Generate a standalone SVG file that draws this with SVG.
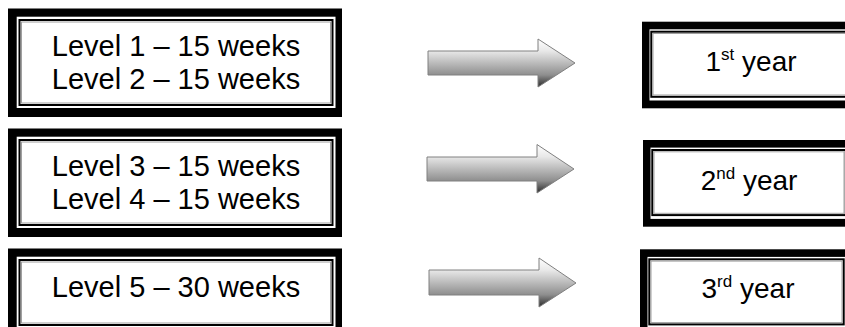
<svg xmlns="http://www.w3.org/2000/svg" width="845" height="327" viewBox="0 0 845 327">
<defs>
<linearGradient id="arrowGrad" x1="0" y1="0" x2="0" y2="1">
<stop offset="0" stop-color="#ffffff"/>
<stop offset="0.25" stop-color="#e8e8e8"/>
<stop offset="0.75" stop-color="#8e8e8e"/>
<stop offset="1" stop-color="#2a2a2a"/>
</linearGradient>
<style>
.outer{fill:#000}
.gap{fill:#fff}
.thin{fill:none;stroke:#000;stroke-width:2}
.gray{fill:none;stroke:#a0a0a0;stroke-width:1}
.lbl{font-family:"Liberation Sans",Arial,sans-serif;font-size:29px;fill:#000;text-anchor:middle}
.lbl2{font-family:"Liberation Sans",Arial,sans-serif;font-size:28px;fill:#000;text-anchor:middle}
.sup{font-size:17px}
.arrow{fill:url(#arrowGrad);stroke:#808080;stroke-width:1}
</style>
</defs>
<rect width="845" height="327" fill="#fff"/>

<g id="level12">
<rect class="outer" x="8" y="8.5" width="334" height="108.5"/>
<rect class="gap" x="16.7" y="16.7" width="318.8" height="91.3"/>
<rect class="thin" x="19.5" y="20" width="313" height="85"/>
<rect class="gray" x="21.5" y="22" width="309" height="81"/>
<text class="lbl" x="176" y="56">Level 1 – 15 weeks</text>
<text class="lbl" x="176" y="89">Level 2 – 15 weeks</text>
</g>

<g id="level34">
<rect class="outer" x="8" y="128.5" width="334" height="108.5"/>
<rect class="gap" x="16.7" y="136.7" width="318.8" height="91.3"/>
<rect class="thin" x="19.5" y="140" width="313" height="85"/>
<rect class="gray" x="21.5" y="142" width="309" height="81"/>
<text class="lbl" x="176" y="176">Level 3 – 15 weeks</text>
<text class="lbl" x="176" y="209">Level 4 – 15 weeks</text>
</g>

<g id="level5">
<rect class="outer" x="8" y="248.5" width="334" height="88.5"/>
<rect class="gap" x="16.7" y="256.7" width="318.8" height="71.3"/>
<rect class="thin" x="19.5" y="260" width="313" height="65"/>
<rect class="gray" x="21.5" y="262" width="309" height="61"/>
<text class="lbl" x="176" y="297">Level 5 – 30 weeks</text>
</g>

<g id="year1">
<rect class="outer" x="642" y="21.7" width="218" height="86.6"/>
<rect class="gap" x="649.5" y="29.3" width="203" height="71.2"/>
<rect class="thin" x="651.3" y="31.7" width="199.4" height="65.1"/>
<rect class="gray" x="653" y="33.5" width="196" height="61.5"/>
<text class="lbl2" x="751" y="71">1<tspan class="sup" dy="-11">st</tspan><tspan dy="11"> year</tspan></text>
</g>

<g id="year2">
<rect class="outer" x="643" y="140" width="212" height="86.7"/>
<rect class="gap" x="650.5" y="147.6" width="197" height="71.3"/>
<rect class="thin" x="652.3" y="150" width="193.4" height="65.1"/>
<rect class="gray" x="654" y="151.8" width="190" height="61.5"/>
<text class="lbl2" x="749" y="189.5">2<tspan class="sup" dy="-11">nd</tspan><tspan dy="11"> year</tspan></text>
</g>

<g id="year3">
<rect class="outer" x="640" y="249.3" width="213" height="86.7"/>
<rect class="gap" x="647.5" y="256.9" width="198" height="71.3"/>
<rect class="thin" x="649.3" y="259.3" width="194.4" height="65.1"/>
<rect class="gray" x="651" y="261.1" width="191" height="61.5"/>
<text class="lbl2" x="748" y="298">3<tspan class="sup" dy="-11">rd</tspan><tspan dy="11"> year</tspan></text>
</g>

<g id="connectors">
<polygon class="arrow" points="428,51 538,51 538,39 575,63 538,87 538,75 428,75"/>
<polygon class="arrow" points="427,157 537,157 537,144.5 574,169 537,193 537,181 427,181"/>
<polygon class="arrow" points="429,270 539,270 539,258 576,283 539,307 539,295 429,295"/>
</g>
</svg>
